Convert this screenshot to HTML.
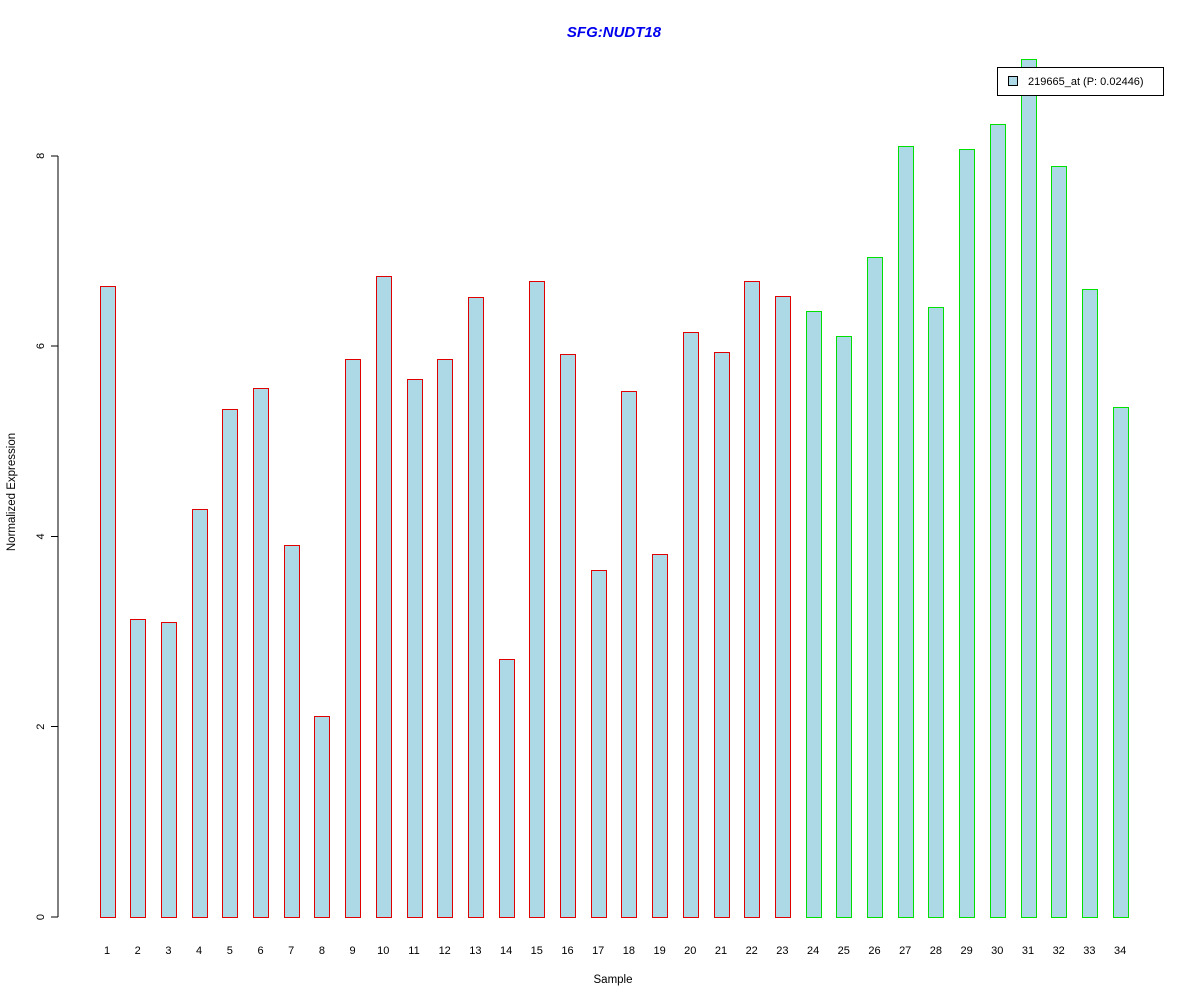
<!DOCTYPE html>
<html><head><meta charset="utf-8"><style>
body{margin:0;background:#fff;}
svg{display:block;font-family:"Liberation Sans",sans-serif;}
</style></head><body>
<svg id="chart" width="1200" height="1000">
<rect width="1200" height="1000" fill="#fff"/>
<text x="614" y="37" text-anchor="middle" font-size="15" font-weight="bold" font-style="italic" fill="#0000ee">SFG:NUDT18</text>
<text x="613" y="983" text-anchor="middle" font-size="11.5">Sample</text>
<text transform="translate(15,492) rotate(-90)" text-anchor="middle" font-size="11.5">Normalized Expression</text>
<g id="bars"></g><g id="yaxis" shape-rendering="crispEdges"></g><g id="xlabels"></g>
<g>
<rect x="997.5" y="67.5" width="166" height="28" fill="#fff" stroke="#000"/>
<rect x="1008.5" y="76.5" width="9" height="9" fill="#add8e6" stroke="#000"/>
<text x="1028" y="85" font-size="11">219665_at (P: 0.02446)</text>
</g>
</svg>
<script>
const categories=[1,2,3,4,5,6,7,8,9,10,11,12,13,14,15,16,17,18,19,20,21,22,23,24,25,26,27,28,29,30,31,32,33,34];
const values=[6.63,3.13,3.10,4.29,5.34,5.56,3.91,2.11,5.86,6.74,5.65,5.86,6.52,2.71,6.68,5.92,3.65,5.53,3.82,6.15,5.94,6.68,6.53,6.37,6.11,6.94,8.10,6.41,8.07,8.33,9.02,7.89,6.60,5.36];
const groups=["r","r","r","r","r","r","r","r","r","r","r","r","r","r","r","r","r","r","r","r","r","r","r","g","g","g","g","g","g","g","g","g","g","g"];
const yTicks=[0,2,4,6,8];
const NS="http://www.w3.org/2000/svg";
const y=v=>917-v*95.15;
const x=i=>107+i*30.7;
const bars=document.getElementById('bars');
values.forEach((v,i)=>{
 const r=document.createElementNS(NS,'rect');
 const top=Math.round(y(v))+0.5;
 r.setAttribute('x',Math.round(x(i)-7.5)+0.5);r.setAttribute('y',top);
 r.setAttribute('width',15);r.setAttribute('height',917.5-top);
 r.setAttribute('fill','#add8e6');r.setAttribute('stroke',groups[i]==='r'?'#e00000':'#00e000');
 
 
 bars.appendChild(r);
 const t=document.createElementNS(NS,'text');
 t.setAttribute('x',x(i));t.setAttribute('y',954);t.setAttribute('text-anchor','middle');t.setAttribute('font-size','11');
 t.textContent=categories[i];
 
 
 document.getElementById('xlabels').appendChild(t);
});
const ya=document.getElementById('yaxis');
const l=document.createElementNS(NS,'line');
l.setAttribute('x1',58);l.setAttribute('x2',58);l.setAttribute('y1',y(0));l.setAttribute('y2',y(8));l.setAttribute('stroke','#000');


ya.appendChild(l);
yTicks.forEach(v=>{
 const tk=document.createElementNS(NS,'line');
 tk.setAttribute('x1',51);tk.setAttribute('x2',58);tk.setAttribute('y1',y(v));tk.setAttribute('y2',y(v));tk.setAttribute('stroke','#000');
 
 
 ya.appendChild(tk);
 const t=document.createElementNS(NS,'text');
 t.setAttribute('transform','translate(44,'+y(v)+') rotate(-90)');t.setAttribute('text-anchor','middle');t.setAttribute('font-size','11');
 t.textContent=v;
 
 
 ya.appendChild(t);
});
</script>
</body></html>
